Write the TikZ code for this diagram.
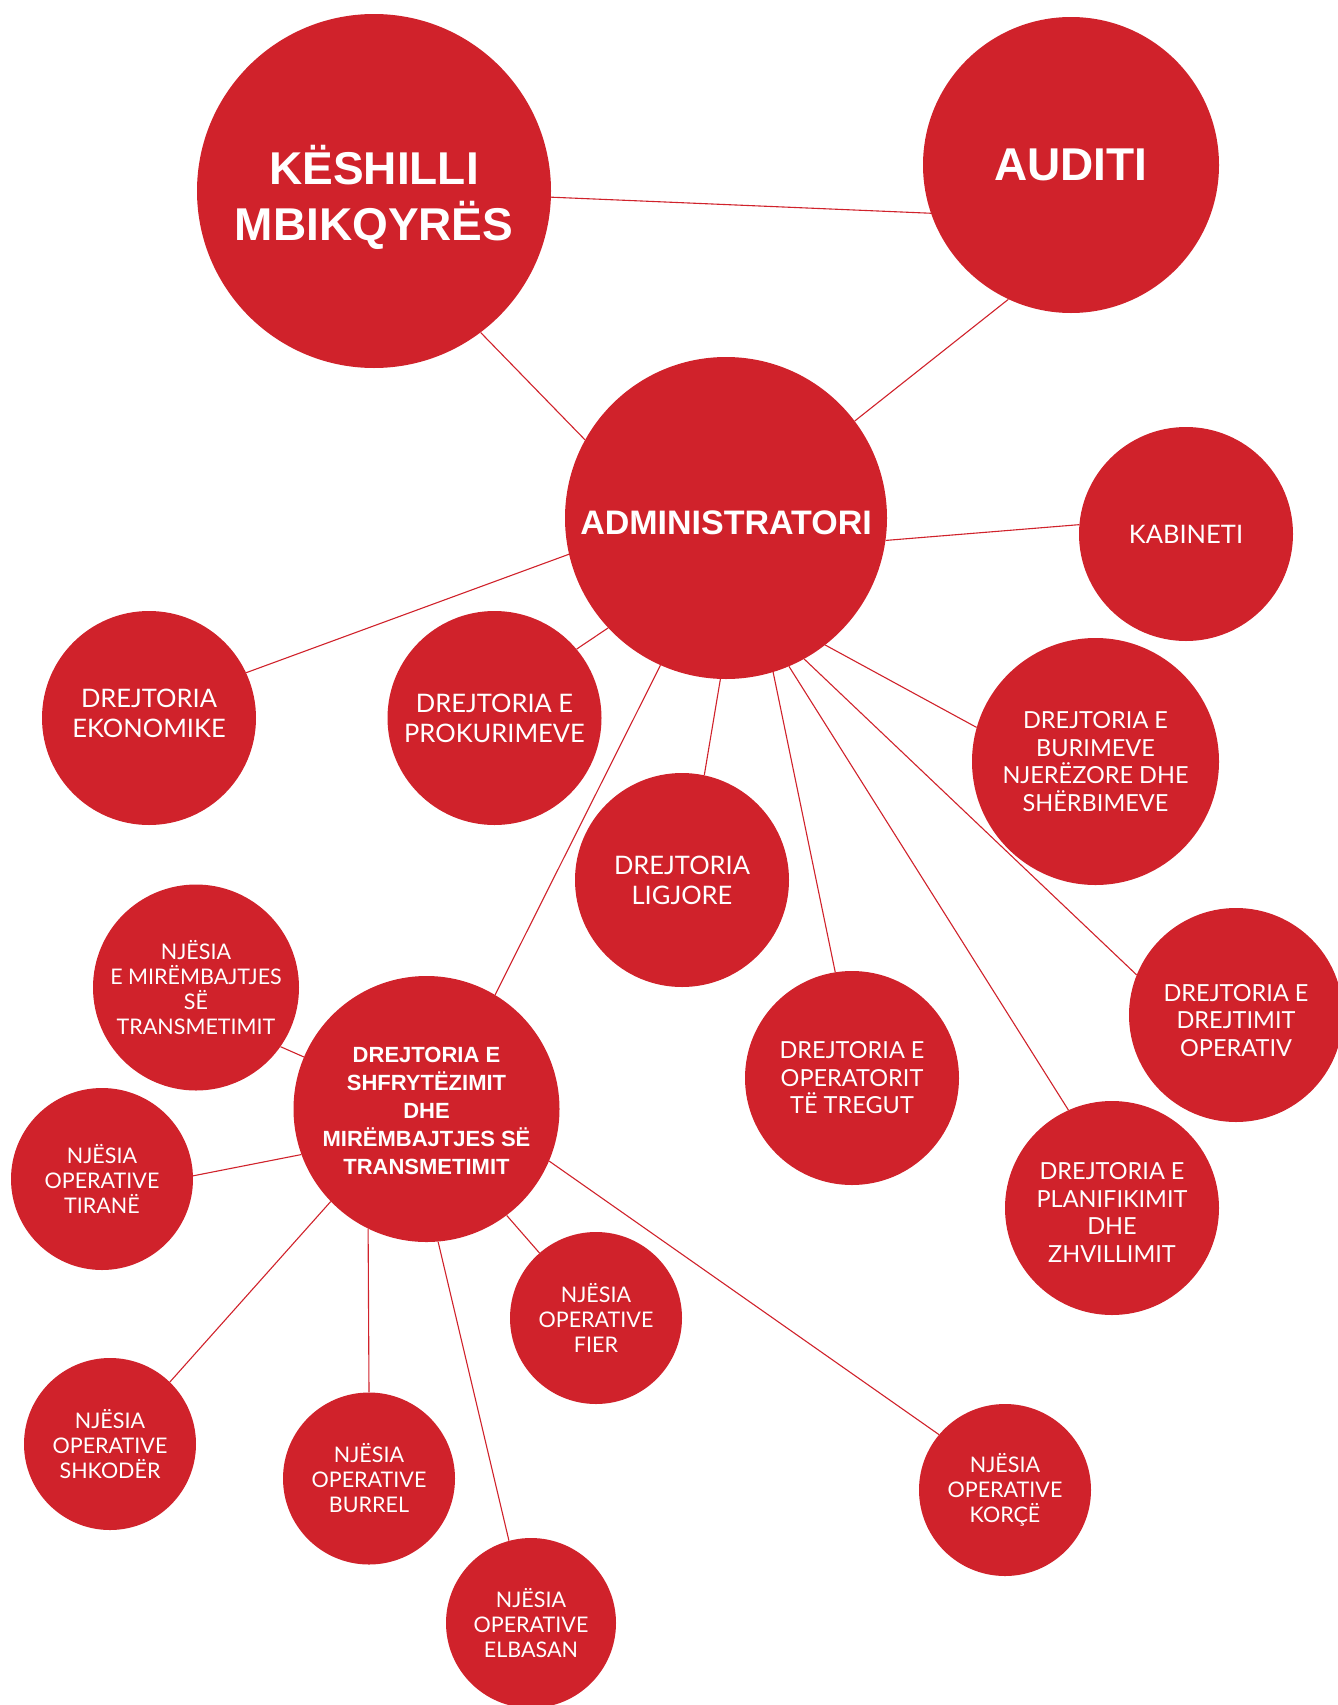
\documentclass[tikz,border=0pt]{standalone}
\usepackage{fontspec}
\setmainfont{Lato}
\newfontfamily\headfont{Liberation Sans}
\usetikzlibrary{positioning}
\definecolor{orgred}{RGB}{208,34,43}
\tikzset{
  link/.style={draw=orgred, line width=1.1pt},
  blob/.style={circle, fill=orgred, text=white, inner sep=0pt, align=center},
  board/.style={blob, font=\headfont\bfseries\fontsize{46}{56}\selectfont},
  chief/.style={blob, minimum size=322pt, font=\headfont\bfseries\fontsize{34}{40}\selectfont},
  sector/.style={blob, minimum size=266pt, font=\headfont\bfseries\fontsize{22}{28}\selectfont},
  dept/.style={blob, minimum size=214pt, font=\fontsize{25.5}{30}\selectfont},
  deptsm/.style={blob, minimum size=214pt, font=\fontsize{23.5}{27.5}\selectfont},
  unit/.style={blob, minimum size=172pt, font=\fontsize{21.5}{25}\selectfont}
}

\begin{document}
\begin{tikzpicture}[x=1pt,y=-1pt]
  \useasboundingbox (0,0) rectangle (1338,1705);
  % top level
  \node[board, minimum size=354pt] (keshilli) at (374,191) {\rule{0pt}{52pt}KËSHILLI\\MBIKQYRËS};
  \node[board, minimum size=296pt] (auditi) at (1071,165) {AUDITI};
  \node[chief] (admin) at (726,518) {\rule{0pt}{33.5pt}ADMINISTRATORI};
  % directorates
  \node[dept] (kabineti) at (1186,534) {KABINETI};
  \node[deptsm, minimum size=247pt] (burimeve) at (1095.5,761.5) {DREJTORIA E\\BURIMEVE\\NJERËZORE DHE\\SHËRBIMEVE};
  \node[dept] (ekonomike) at (149,718) {DREJTORIA\\EKONOMIKE\rule[-9pt]{0pt}{9pt}};
  \node[dept] (prokurime) at (494.5,718) {DREJTORIA E\\PROKURIMEVE};
  \node[dept] (ligjore) at (682,880) {DREJTORIA\\LIGJORE};
  \node[deptsm] (tregut) at (852,1078) {DREJTORIA E\\OPERATORIT\\TË TREGUT};
  \node[deptsm] (drejtimit) at (1236,1015) {\rule{0pt}{27.5pt}DREJTORIA E\\DREJTIMIT\\OPERATIV};
  \node[deptsm] (planif) at (1112,1208) {\rule{0pt}{25.5pt}DREJTORIA E\\PLANIFIKIMIT\\DHE\\ZHVILLIMIT};
  \node[sector] (shfrytez) at (426.5,1109) {\rule{0pt}{20pt}DREJTORIA E\\SHFRYTËZIMIT\\DHE\\MIRËMBAJTJES SË\\TRANSMETIMIT};
  % units
  \node[unit, minimum size=206pt] (mirembajt) at (196,987.5) {NJËSIA\\E MIRËMBAJTJES\\SË\\TRANSMETIMIT};
  \node[unit, minimum size=182pt] (tirane) at (102,1179) {NJËSIA\\OPERATIVE\\TIRANË};
  \node[unit] (fier) at (596,1318) {NJËSIA\\OPERATIVE\\FIER};
  \node[unit] (shkoder) at (110,1444) {NJËSIA\\OPERATIVE\\SHKODËR};
  \node[unit] (burrel) at (369,1478.5) {NJËSIA\\OPERATIVE\\BURREL};
  \node[unit, minimum size=170pt] (elbasan) at (531,1623) {NJËSIA\\OPERATIVE\\ELBASAN};
  \node[unit] (korce) at (1005,1490) {NJËSIA\\OPERATIVE\\KORÇË};
  % links
  \draw[link] (keshilli.-2) -- (auditi.199);
  \draw[link] (keshilli.-53.5) -- (admin.151);
  \draw[link] (auditi.245) -- (admin.37.7);
  \draw[link] (admin.-8) -- (kabineti.175);
  \draw[link] (admin.193) -- (ekonomike.25);
  \draw[link] (admin.-137) -- (prokurime.40.7);
  \draw[link] (admin.-114.8) -- (shfrytez.59.4);
  \draw[link] (admin.-92.8) -- (ligjore.78.2);
  \draw[link] (admin.-73.6) -- (tregut.99.5);
  \draw[link] (admin.-67.4) -- (planif.114.4);
  \draw[link] (admin.-61.2) -- (drejtimit.158.4);
  \draw[link] (admin.-52.8) -- (burimeve.164);
  \draw[link] (shfrytez.157.2) -- (mirembajt.-35.3);
  \draw[link] (shfrytez.-160.7) -- (tirane.2.5);
  \draw[link] (shfrytez.-136.7) -- (shkoder.46.4);
  \draw[link] (shfrytez.-116) -- (burrel.90);
  \draw[link] (shfrytez.-85) -- (elbasan.105.3);
  \draw[link] (shfrytez.-53.6) -- (fier.131.2);
  \draw[link] (shfrytez.-23.8) -- (korce.140.2);
\end{tikzpicture}
\end{document}
